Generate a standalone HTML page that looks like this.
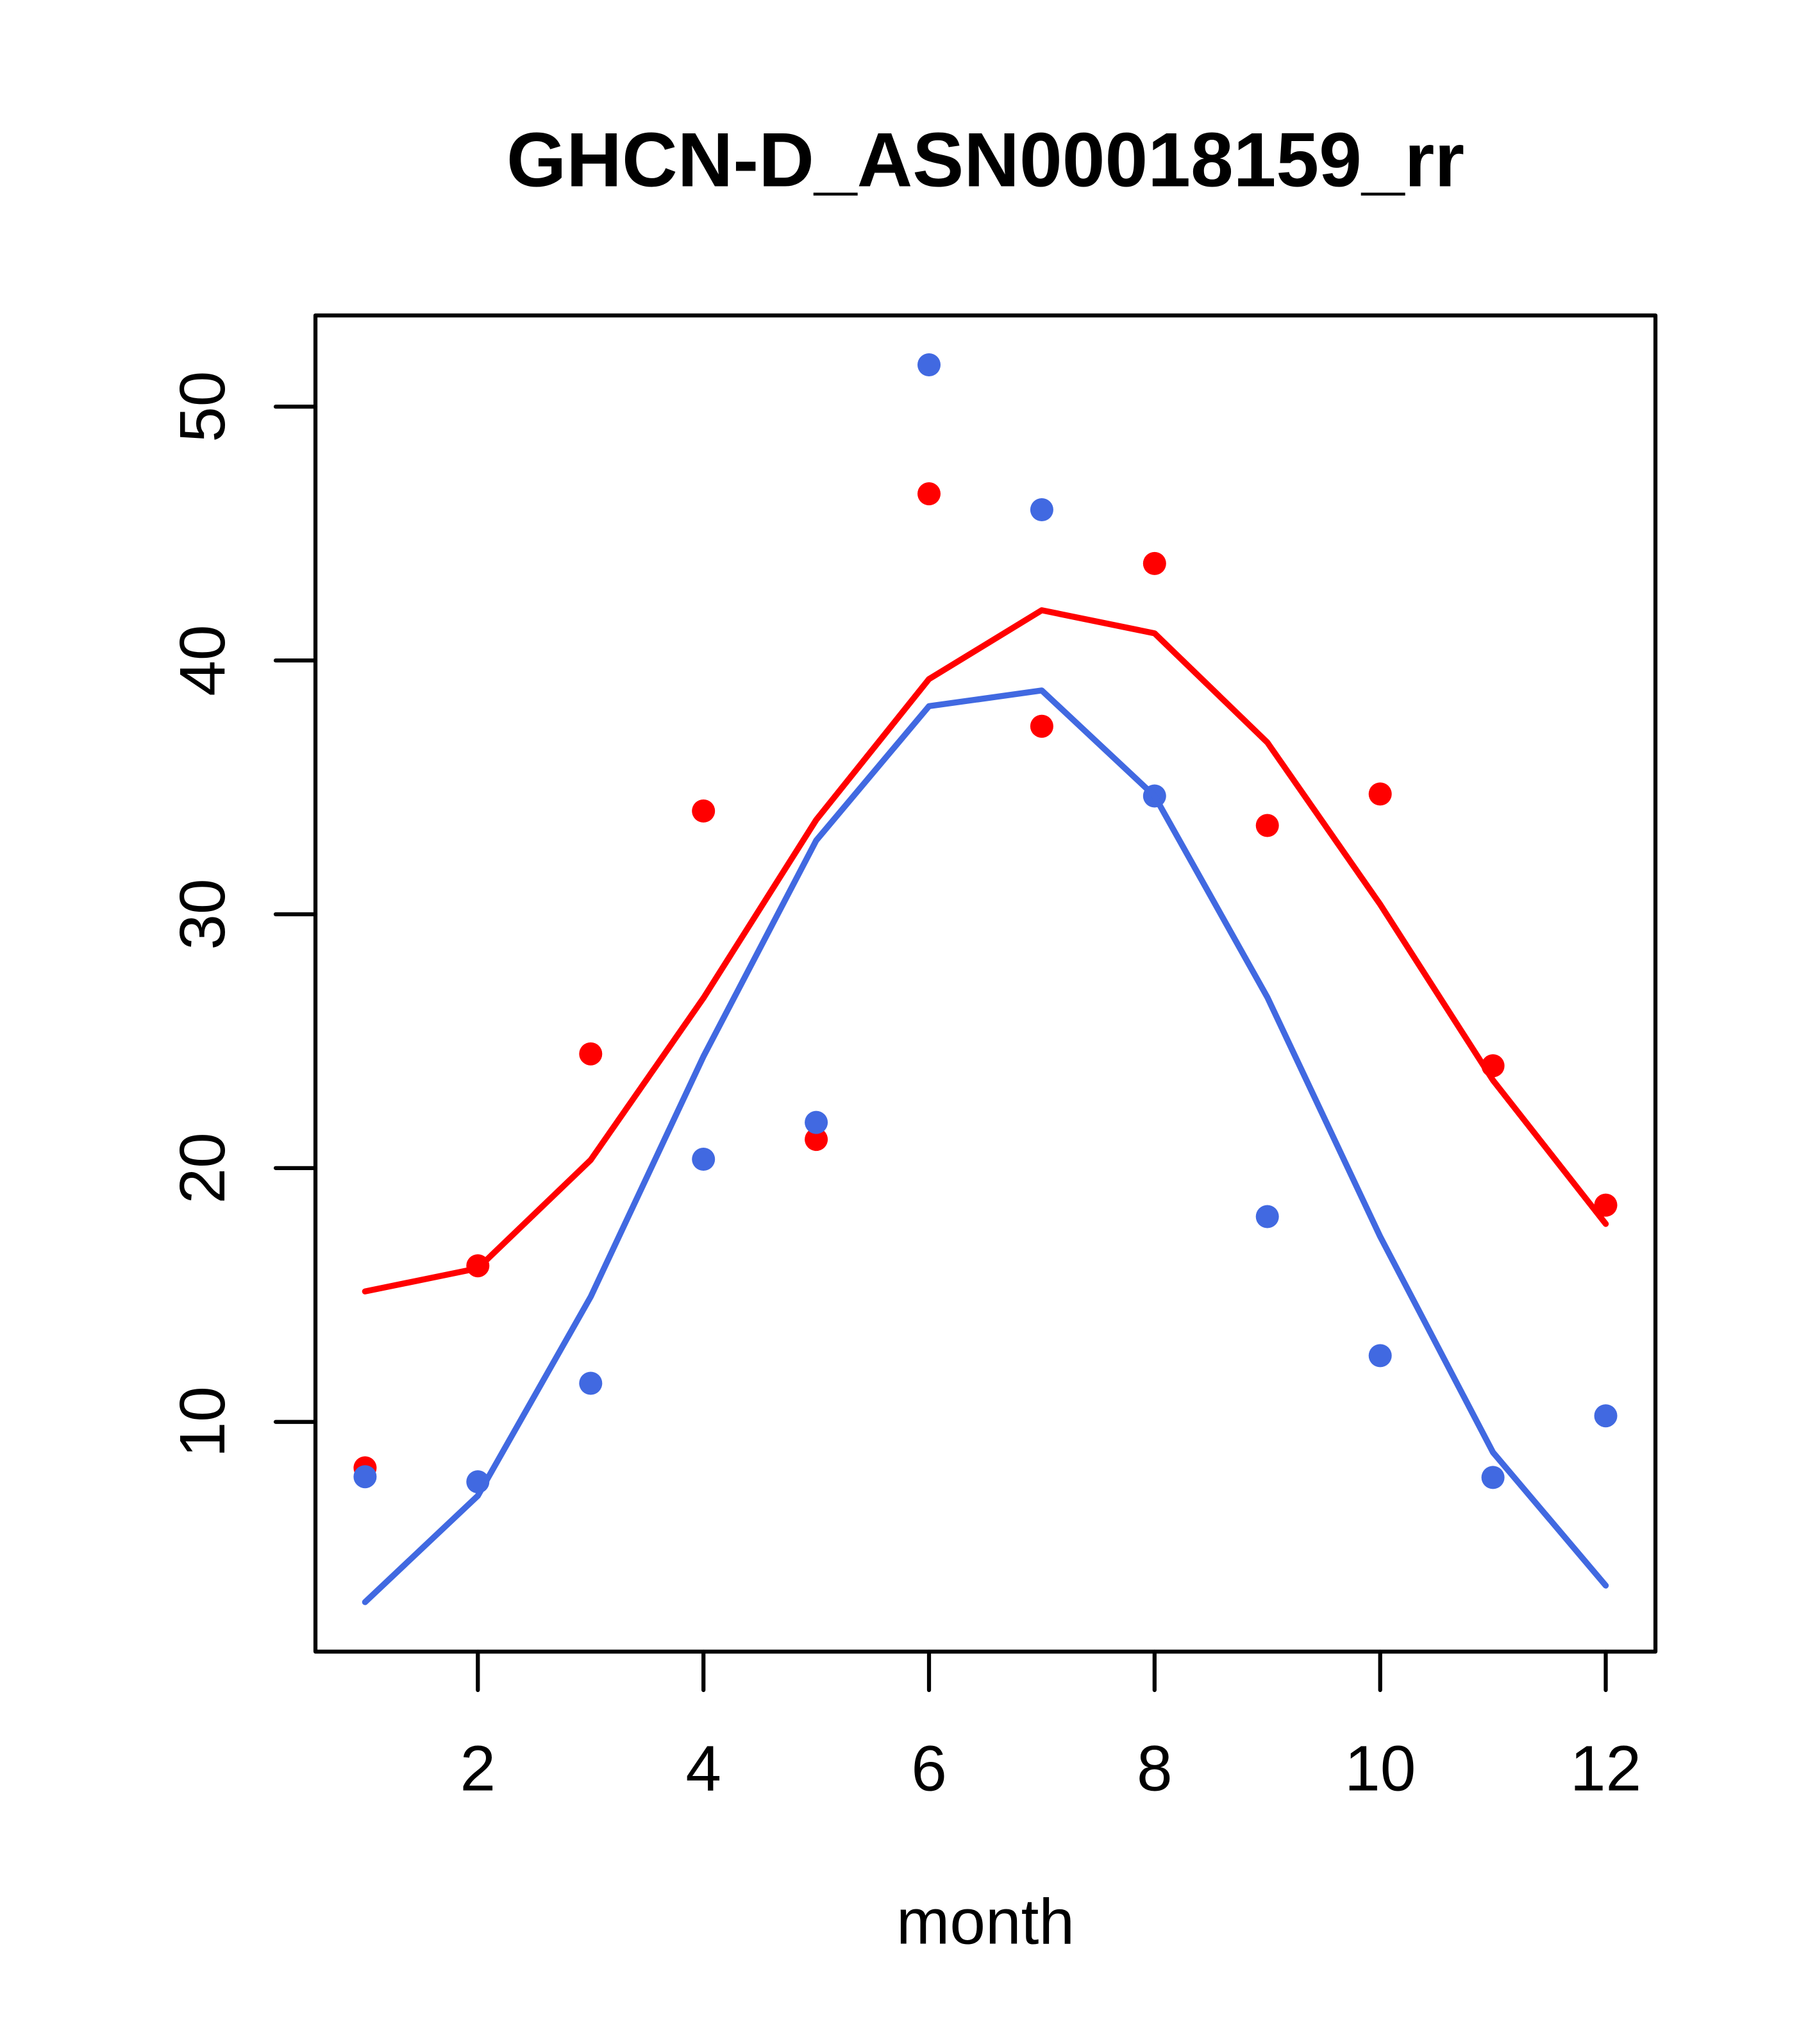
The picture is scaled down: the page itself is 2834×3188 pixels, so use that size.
<!DOCTYPE html>
<html>
<head>
<meta charset="utf-8">
<style>
html,body{margin:0;padding:0;background:#fff;}
svg{display:block;}
text{font-family:"Liberation Sans",Arial,sans-serif;fill:#000;}
</style>
</head>
<body>
<svg width="2834" height="3188" viewBox="0 0 2834 3188" xmlns="http://www.w3.org/2000/svg">
<rect x="0" y="0" width="2834" height="3188" fill="#fff"/>

<!-- title -->
<text x="1537" y="290.7" font-size="120" font-weight="bold" text-anchor="middle">GHCN-D_ASN00018159_rr</text>

<!-- red points -->
<g fill="#FF0000">
<circle cx="569.4" cy="2289.4" r="18"/>
<circle cx="745.3" cy="1974.2" r="18"/>
<circle cx="921.3" cy="1643.7" r="18"/>
<circle cx="1097.2" cy="1264.9" r="18"/>
<circle cx="1273.1" cy="1777.1" r="18"/>
<circle cx="1449.0" cy="770.1" r="18"/>
<circle cx="1624.9" cy="1132.7" r="18"/>
<circle cx="1800.8" cy="878.9" r="18"/>
<circle cx="1976.7" cy="1287.5" r="18"/>
<circle cx="2152.7" cy="1238.4" r="18"/>
<circle cx="2328.6" cy="1662.3" r="18"/>
<circle cx="2504.5" cy="1879.6" r="18"/>
</g>

<!-- red line -->
<polyline fill="none" stroke="#FF0000" stroke-width="9.4" stroke-linecap="round" stroke-linejoin="round"
points="569.4,2014.2 745.3,1978.2 921.3,1809.2 1097.2,1556.6 1273.1,1278.7 1449.0,1059.1 1624.9,951.8 1800.8,987.8 1976.7,1158.0 2152.7,1410.6 2328.6,1684.9 2504.5,1908.9"/>

<!-- blue points -->
<g fill="#4169E1">
<circle cx="569.4" cy="2303.2" r="18"/>
<circle cx="745.3" cy="2311.1" r="18"/>
<circle cx="921.3" cy="2157.5" r="18"/>
<circle cx="1097.2" cy="1808.0" r="18"/>
<circle cx="1273.1" cy="1750.6" r="18"/>
<circle cx="1449.0" cy="569.0" r="18"/>
<circle cx="1624.9" cy="795.0" r="18"/>
<circle cx="1800.8" cy="1241.5" r="18"/>
<circle cx="1976.7" cy="1897.5" r="18"/>
<circle cx="2152.7" cy="2114.4" r="18"/>
<circle cx="2328.6" cy="2304.4" r="18"/>
<circle cx="2504.5" cy="2208.2" r="18"/>
</g>

<!-- blue line -->
<polyline fill="none" stroke="#4169E1" stroke-width="9.4" stroke-linecap="round" stroke-linejoin="round"
points="569.4,2498.8 745.3,2332.9 921.3,2022.6 1097.2,1647.7 1273.1,1310.8 1449.0,1101.4 1624.9,1076.9 1800.8,1241.5 1976.7,1555.4 2152.7,1928.7 2328.6,2265.2 2504.5,2473.0"/>

<!-- axes box -->
<rect x="492" y="492" width="2090" height="2084" fill="none" stroke="#000" stroke-width="6.25" stroke-linejoin="round"/>

<!-- x ticks -->
<g stroke="#000" stroke-width="6.25" stroke-linecap="round">
<line x1="745.3" y1="2576" x2="745.3" y2="2636"/>
<line x1="1097.2" y1="2576" x2="1097.2" y2="2636"/>
<line x1="1449.0" y1="2576" x2="1449.0" y2="2636"/>
<line x1="1800.8" y1="2576" x2="1800.8" y2="2636"/>
<line x1="2152.7" y1="2576" x2="2152.7" y2="2636"/>
<line x1="2504.5" y1="2576" x2="2504.5" y2="2636"/>
</g>
<g font-size="100" text-anchor="middle">
<text x="745.3" y="2792.7">2</text>
<text x="1097.2" y="2792.7">4</text>
<text x="1449.0" y="2792.7">6</text>
<text x="1800.8" y="2792.7">8</text>
<text x="2152.7" y="2792.7">10</text>
<text x="2504.5" y="2792.7">12</text>
</g>

<!-- y ticks -->
<g stroke="#000" stroke-width="6.25" stroke-linecap="round">
<line x1="430" y1="2217.7" x2="492" y2="2217.7"/>
<line x1="430" y1="1821.85" x2="492" y2="1821.85"/>
<line x1="430" y1="1426.0" x2="492" y2="1426.0"/>
<line x1="430" y1="1030.15" x2="492" y2="1030.15"/>
<line x1="430" y1="634.3" x2="492" y2="634.3"/>
</g>
<g font-size="100" text-anchor="middle">
<text transform="translate(350,2217.7) rotate(-90)">10</text>
<text transform="translate(350,1821.85) rotate(-90)">20</text>
<text transform="translate(350,1426.0) rotate(-90)">30</text>
<text transform="translate(350,1030.15) rotate(-90)">40</text>
<text transform="translate(350,634.3) rotate(-90)">50</text>
</g>

<!-- x label -->
<text x="1537" y="3031.7" font-size="100" text-anchor="middle">month</text>
</svg>
</body>
</html>
